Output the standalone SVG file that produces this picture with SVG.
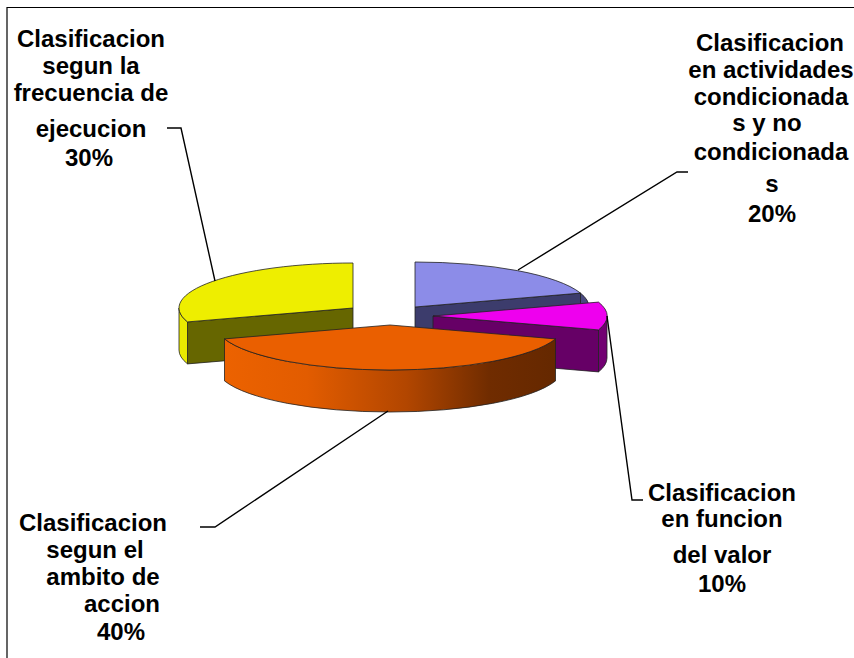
<svg xmlns="http://www.w3.org/2000/svg" width="854" height="658" viewBox="0 0 854 658">
<defs>
<style>
.lbl{font-family:"Liberation Sans",Arial,sans-serif;font-weight:bold;font-size:24px;fill:#000;text-anchor:middle}
.edge{stroke:#222;stroke-width:0.8;stroke-linejoin:round}
.lead{fill:none;stroke:#000;stroke-width:1.4}
</style>
<linearGradient id="og" gradientUnits="userSpaceOnUse" x1="224.5" y1="0" x2="555.5" y2="0">
<stop offset="0" stop-color="#EC6200"/>
<stop offset="0.25" stop-color="#E25C00"/>
<stop offset="0.55" stop-color="#B24600"/>
<stop offset="0.8" stop-color="#702C00"/>
<stop offset="1" stop-color="#652800"/>
</linearGradient>
</defs>
<rect width="854" height="658" fill="#fff"/>
<path d="M7,658 V7.5 H854" fill="none" stroke="#000" stroke-width="1.2"/>

<g id="slice-frecuencia">
<path class="edge" d="M353,308 L187.5,321.9 L187.5,363.9 L353,350 Z" fill="#666600"/>
<path class="edge" d="M187.5,321.9 A174,45 0 0,1 179,308 L179,350 A174,45 0 0,0 187.5,363.9 Z" fill="#EAEA00"/>
<path class="edge" d="M353,308 L187.5,321.9 A174,45 0 0,1 353,263 Z" fill="#EEEE00"/>
</g>

<g id="slice-condicionadas">
<path class="edge" d="M415,307 L580.5,293.1 L580.5,335.1 L415,349 Z" fill="#3C3C6C"/>
<path class="edge" d="M580.5,293.1 A174,45 0 0,1 589,307 L589,349 A174,45 0 0,0 580.5,335.1 Z" fill="#4A4A80"/>
<path class="edge" d="M415,307 L415,262 A174,45 0 0,1 580.5,293.1 Z" fill="#8C8CE8"/>
</g>

<g id="slice-valor">
<path class="edge" d="M433,316 L598.5,329.9 L598.5,371.9 L433,358 Z" fill="#660066"/>
<path class="edge" d="M607,316 A174,45 0 0,1 598.5,329.9 L598.5,371.9 A174,45 0 0,0 607,358 Z" fill="#720072"/>
<path class="edge" d="M433,316 L598.5,302.1 A174,45 0 0,1 598.5,329.9 Z" fill="#EE00EE"/>
</g>

<g id="slice-ambito">
<path class="edge" d="M555.5,338.9 A174,45 0 0,1 224.5,338.9 L224.5,380.9 A174,45 0 0,0 555.5,380.9 Z" fill="url(#og)"/>
<path class="edge" d="M390,325 L555.5,338.9 A174,45 0 0,1 224.5,338.9 Z" fill="#EA5F00"/>
</g>

<g id="connectors">
<path class="lead" d="M167,128 L181,128 L215,281"/>
<path class="lead" d="M688,172 L677,172 L518,270"/>
<path class="lead" d="M607,316 L632,500 L643,500"/>
<path class="lead" d="M388,411 L215,527 L200,527"/>
</g>

<g id="label-frecuencia">
<text class="lbl" x="91" y="47">Clasificacion</text>
<text class="lbl" x="91" y="74">segun la</text>
<text class="lbl" x="91" y="101">frecuencia de</text>
<text class="lbl" x="91" y="137">ejecucion</text>
<text class="lbl" x="89" y="166">30%</text>
</g>

<g id="label-condicionadas">
<text class="lbl" x="770" y="51">Clasificacion</text>
<text class="lbl" x="771" y="78">en actividades</text>
<text class="lbl" x="771" y="105">condicionada</text>
<text class="lbl" x="767" y="131">s y no</text>
<text class="lbl" x="771" y="160">condicionada</text>
<text class="lbl" x="772" y="192">s</text>
<text class="lbl" x="772" y="222">20%</text>
</g>

<g id="label-valor">
<text class="lbl" x="722" y="501">Clasificacion</text>
<text class="lbl" x="722" y="527">en funcion</text>
<text class="lbl" x="722" y="563">del valor</text>
<text class="lbl" x="722" y="592">10%</text>
</g>

<g id="label-ambito">
<text class="lbl" x="93" y="531">Clasificacion</text>
<text class="lbl" x="95" y="558">segun el</text>
<text class="lbl" x="103" y="585">ambito de</text>
<text class="lbl" x="122" y="612">accion</text>
<text class="lbl" x="121" y="640">40%</text>
</g>
</svg>
